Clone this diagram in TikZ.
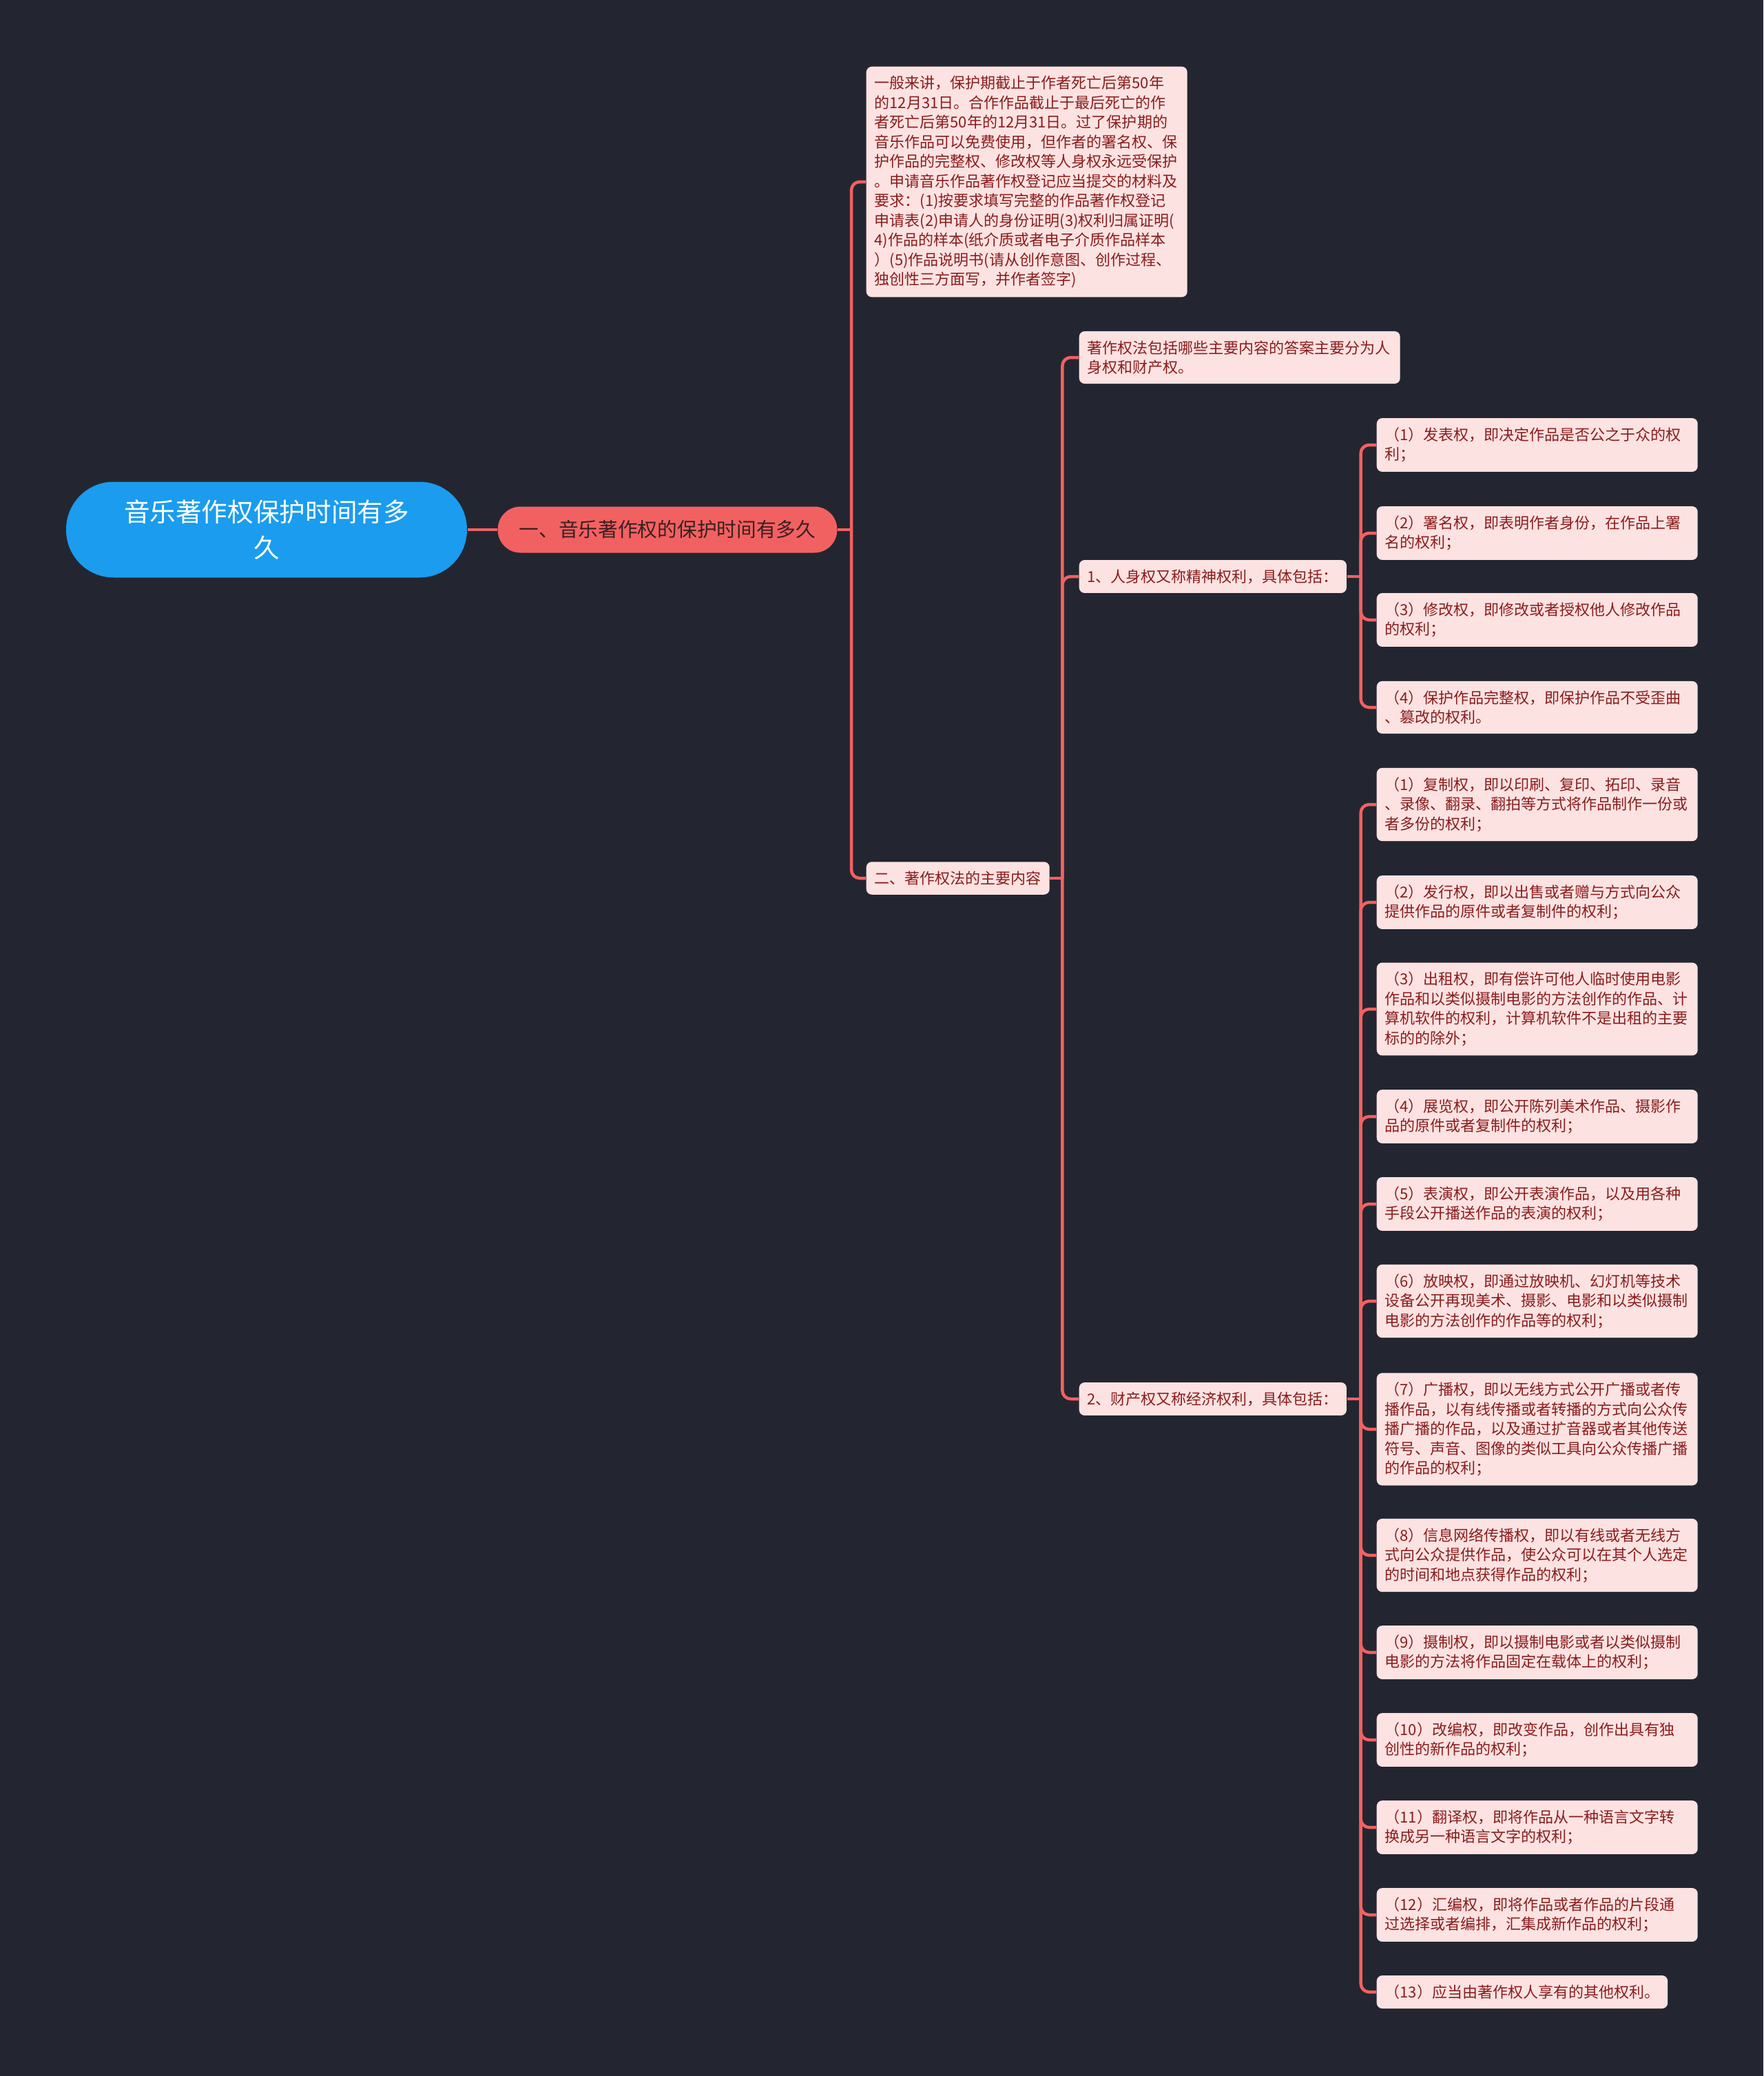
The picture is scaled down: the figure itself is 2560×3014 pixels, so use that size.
\documentclass[tikz,border=0pt]{standalone}
\usepackage{fontspec}
\setmainfont{Noto Sans CJK SC}

\definecolor{bgnavy}{HTML}{232631}
\definecolor{rootblue}{HTML}{1B9CEE}
\definecolor{coral}{HTML}{F26161}
\definecolor{topictext}{HTML}{3A1F22}
\definecolor{pinkfill}{HTML}{FDE2E2}
\definecolor{cardtext}{HTML}{8A1C1C}

\begin{document}
\begin{tikzpicture}[x=0.1mm,y=-0.1mm,
	rootnode/.style={fill=rootblue,text=white,rounded corners=6.9mm,minimum width=58.2mm,minimum height=13.9mm,align=center,font=\fontsize{10.7pt}{14.8pt}\selectfont},
	topic/.style={fill=coral,text=topictext,rounded corners=3.3mm,minimum height=6.7mm,inner xsep=3.1mm,font=\fontsize{8.17pt}{10pt}\selectfont},
	card/.style={fill=pinkfill,text=cardtext,rounded corners=0.8mm,inner xsep=1.2mm,inner ysep=1.35mm,align=left,anchor=west,font=\fontsize{6.26pt}{8.1pt}\selectfont},
	wide/.style={card,text width=44.2mm},
	link/.style={draw=coral,line width=0.45mm,rounded corners=1.2mm}]
	\path[fill=bgnavy,use as bounding box] (0,0) rectangle (2560,3014);
	% root and first level
	\node[rootnode] (root) at (387,769) {音乐著作权保护时间有多\\久};
	\node[topic] (sec1) at (969,769) {一、音乐著作权的保护时间有多久};
	\node[wide] (note) at (1257,264) {一般来讲，保护期截止于作者死亡后第50年\\的12月31日。合作作品截止于最后死亡的作\\者死亡后第50年的12月31日。过了保护期的\\音乐作品可以免费使用，但作者的署名权、保\\护作品的完整权、修改权等人身权永远受保护\\。申请音乐作品著作权登记应当提交的材料及\\要求：(1)按要求填写完整的作品著作权登记\\申请表(2)申请人的身份证明(3)权利归属证明(\\4)作品的样本(纸介质或者电子介质作品样本\\）(5)作品说明书(请从创作意图、创作过程、\\独创性三方面写，并作者签字)};
	\node[card] (sec2) at (1257,1275) {二、著作权法的主要内容};
	% second level
	\node[wide] (summary) at (1566,519) {著作权法包括哪些主要内容的答案主要分为人\\身权和财产权。};
	\node[card] (moral) at (1566,837) {1、人身权又称精神权利，具体包括：};
	\node[card] (econ) at (1566,2031) {2、财产权又称经济权利，具体包括：};
	% 人身权
	\node[wide] (m1) at (1998,646) {（1）发表权，即决定作品是否公之于众的权\\利；};
	\node[wide] (m2) at (1998,774) {（2）署名权，即表明作者身份，在作品上署\\名的权利；};
	\node[wide] (m3) at (1998,900) {（3）修改权，即修改或者授权他人修改作品\\的权利；};
	\node[wide] (m4) at (1998,1027) {（4）保护作品完整权，即保护作品不受歪曲\\、篡改的权利。};
	% 财产权
	\node[wide] (e1) at (1998,1168) {（1）复制权，即以印刷、复印、拓印、录音\\、录像、翻录、翻拍等方式将作品制作一份或\\者多份的权利；};
	\node[wide] (e2) at (1998,1310) {（2）发行权，即以出售或者赠与方式向公众\\提供作品的原件或者复制件的权利；};
	\node[wide] (e3) at (1998,1465) {（3）出租权，即有偿许可他人临时使用电影\\作品和以类似摄制电影的方法创作的作品、计\\算机软件的权利，计算机软件不是出租的主要\\标的的除外；};
	\node[wide] (e4) at (1998,1621) {（4）展览权，即公开陈列美术作品、摄影作\\品的原件或者复制件的权利；};
	\node[wide] (e5) at (1998,1748) {（5）表演权，即公开表演作品，以及用各种\\手段公开播送作品的表演的权利；};
	\node[wide] (e6) at (1998,1889) {（6）放映权，即通过放映机、幻灯机等技术\\设备公开再现美术、摄影、电影和以类似摄制\\电影的方法创作的作品等的权利；};
	\node[wide] (e7) at (1998,2075) {（7）广播权，即以无线方式公开广播或者传\\播作品，以有线传播或者转播的方式向公众传\\播广播的作品，以及通过扩音器或者其他传送\\符号、声音、图像的类似工具向公众传播广播\\的作品的权利；};
	\node[wide] (e8) at (1998,2258) {（8）信息网络传播权，即以有线或者无线方\\式向公众提供作品，使公众可以在其个人选定\\的时间和地点获得作品的权利；};
	\node[wide] (e9) at (1998,2399) {（9）摄制权，即以摄制电影或者以类似摄制\\电影的方法将作品固定在载体上的权利；};
	\node[wide] (e10) at (1998,2526) {（10）改编权，即改变作品，创作出具有独\\创性的新作品的权利；};
	\node[wide] (e11) at (1998,2653) {（11）翻译权，即将作品从一种语言文字转\\换成另一种语言文字的权利；};
	\node[wide] (e12) at (1998,2780) {（12）汇编权，即将作品或者作品的片段通\\过选择或者编排，汇集成新作品的权利；};
	\node[card] (e13) at (1998,2892) {（13）应当由著作权人享有的其他权利。};
	% connectors
	\coordinate (j0) at ([xshift=2mm]sec1.east);
	\coordinate (j1) at ([xshift=1.8mm]sec2.east);
	\coordinate (j2) at ([xshift=2mm]moral.east);
	\coordinate (j3) at ([xshift=2mm]econ.east);
	\draw[link] (root.east) -- (sec1.west);
	\draw[link] (sec1.east) -- (j0);
	\foreach \n in {note,sec2} {\draw[link] (j0) |- (\n.west);}
	\draw[link] (sec2.east) -- (j1);
	\foreach \n in {summary,moral,econ} {\draw[link] (j1) |- (\n.west);}
	\draw[link] (moral.east) -- (j2);
	\foreach \n in {m1,m2,m3,m4} {\draw[link] (j2) |- (\n.west);}
	\draw[link] (econ.east) -- (j3);
	\foreach \n in {e1,e2,e3,e4,e5,e6,e7,e8,e9,e10,e11,e12,e13} {\draw[link] (j3) |- (\n.west);}
\end{tikzpicture}
\end{document}
